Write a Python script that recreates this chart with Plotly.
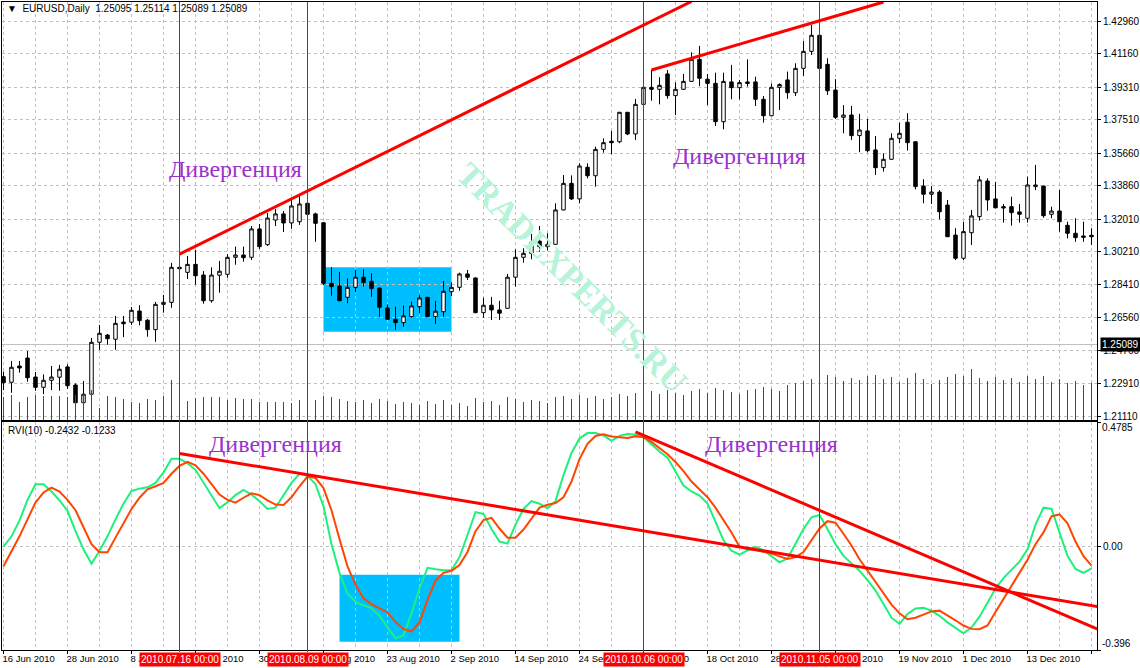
import plotly.graph_objects as go
import pandas as pd

# ---------------- data (EURUSD, Daily) ----------------
dates = pd.bdate_range("2010-06-16", "2010-12-23")  # 137 daily bars

open_ = [
    1.2331, 1.2300, 1.2390, 1.2434, 1.2329, 1.2272, 1.2311, 1.2328, 1.2385, 1.2285,
    1.2187, 1.2234, 1.2521, 1.2561, 1.2538, 1.2633, 1.2632, 1.2694, 1.2643, 1.2591,
    1.2731, 1.2742, 1.2936, 1.2908, 1.2952, 1.2893, 1.2751, 1.2892, 1.2897, 1.2991,
    1.3004, 1.2991, 1.3148, 1.3061, 1.3197, 1.3231, 1.3181, 1.3188, 1.3290, 1.3231,
    1.3182, 1.2847, 1.2832, 1.2770, 1.2825, 1.2881, 1.2858, 1.2821, 1.2711, 1.2648,
    1.2630, 1.2663, 1.2718, 1.2770, 1.2663, 1.2690, 1.2801, 1.2825, 1.2899, 1.2877,
    1.2685, 1.2726, 1.2700, 1.2709, 1.2881, 1.2991, 1.3013, 1.3081, 1.3050, 1.3063,
    1.3253, 1.3400, 1.3314, 1.3489, 1.3442, 1.3588, 1.3633, 1.3630, 1.3793, 1.3673,
    1.3837, 1.3931, 1.3920, 1.4005, 1.3885, 1.3920, 1.3964, 1.4086, 1.3976, 1.3953,
    1.3741, 1.3961, 1.3929, 1.3961, 1.3961, 1.3865, 1.3774, 1.3931, 1.3972, 1.3901,
    1.4036, 1.4130, 1.4219, 1.4058, 1.3916, 1.3765, 1.3778, 1.3664, 1.3690, 1.3585,
    1.3487, 1.3533, 1.3649, 1.3738, 1.3630, 1.3385, 1.3340, 1.3352, 1.3280, 1.3114,
    1.2986, 1.3127, 1.3216, 1.3413, 1.3314, 1.3271, 1.3271, 1.3242, 1.3207, 1.3382,
    1.3385, 1.3229, 1.3247, 1.3168, 1.3124, 1.3109, 1.3113,
]
high = [
    1.2359, 1.2418, 1.2418, 1.2473, 1.2357, 1.2344, 1.2390, 1.2396, 1.2399, 1.2294,
    1.2307, 1.2545, 1.2617, 1.2567, 1.2667, 1.2667, 1.2716, 1.2726, 1.2650, 1.2744,
    1.2783, 1.2960, 1.2954, 1.2998, 1.3032, 1.2915, 1.2936, 1.2971, 1.3009, 1.3050,
    1.3050, 1.3164, 1.3175, 1.3236, 1.3258, 1.3247, 1.3314, 1.3330, 1.3308, 1.3238,
    1.3186, 1.2936, 1.2910, 1.2875, 1.2921, 1.2925, 1.2903, 1.2823, 1.2731, 1.2718,
    1.2724, 1.2746, 1.2783, 1.2772, 1.2750, 1.2860, 1.2853, 1.2906, 1.2921, 1.2879,
    1.2768, 1.2772, 1.2750, 1.2899, 1.3035, 1.3041, 1.3120, 1.3164, 1.3124, 1.3290,
    1.3446, 1.3444, 1.3511, 1.3511, 1.3603, 1.3649, 1.3690, 1.3795, 1.3795, 1.3867,
    1.3933, 1.4027, 1.3987, 1.4027, 1.3959, 1.4005, 1.4125, 1.4160, 1.4005, 1.4012,
    1.4012, 1.4055, 1.3972, 1.4086, 1.3990, 1.3883, 1.3953, 1.3953, 1.4018, 1.4064,
    1.4187, 1.4276, 1.4250, 1.4092, 1.3976, 1.3833, 1.3828, 1.3784, 1.3756, 1.3662,
    1.3566, 1.3677, 1.3736, 1.3788, 1.3632, 1.3423, 1.3385, 1.3363, 1.3308, 1.3152,
    1.3188, 1.3253, 1.3441, 1.3428, 1.3408, 1.3286, 1.3326, 1.3286, 1.3437, 1.3502,
    1.3388, 1.3271, 1.3363, 1.3188, 1.3207, 1.3188, 1.3152,
]
low = [
    1.2257, 1.2242, 1.2353, 1.2303, 1.2253, 1.2234, 1.2257, 1.2253, 1.2263, 1.2185,
    1.2180, 1.2225, 1.2479, 1.2508, 1.2479, 1.2550, 1.2617, 1.2615, 1.2552, 1.2524,
    1.2685, 1.2712, 1.2921, 1.2871, 1.2840, 1.2735, 1.2740, 1.2795, 1.2878, 1.2950,
    1.2967, 1.2976, 1.3037, 1.3054, 1.3164, 1.3131, 1.3148, 1.3170, 1.3220, 1.3077,
    1.2838, 1.2779, 1.2748, 1.2737, 1.2799, 1.2829, 1.2773, 1.2663, 1.2646, 1.2589,
    1.2607, 1.2657, 1.2682, 1.2661, 1.2622, 1.2663, 1.2777, 1.2806, 1.2866, 1.2682,
    1.2657, 1.2644, 1.2644, 1.2707, 1.2829, 1.2961, 1.2980, 1.3022, 1.3028, 1.3061,
    1.3251, 1.3308, 1.3290, 1.3428, 1.3382, 1.3570, 1.3561, 1.3622, 1.3667, 1.3640,
    1.3835, 1.3857, 1.3837, 1.3868, 1.3778, 1.3916, 1.3961, 1.3938, 1.3833, 1.3717,
    1.3699, 1.3865, 1.3865, 1.3935, 1.3828, 1.3736, 1.3772, 1.3806, 1.3867, 1.3883,
    1.3994, 1.4110, 1.4030, 1.3889, 1.3756, 1.3677, 1.3640, 1.3572, 1.3572, 1.3446,
    1.3465, 1.3531, 1.3622, 1.3581, 1.3367, 1.3290, 1.3286, 1.3201, 1.3103, 1.2976,
    1.2976, 1.3059, 1.3194, 1.3249, 1.3262, 1.3183, 1.3166, 1.3183, 1.3183, 1.3363,
    1.3210, 1.3207, 1.3133, 1.3096, 1.3077, 1.3077, 1.3059,
]
close = [
    1.2298, 1.2383, 1.2379, 1.2325, 1.2272, 1.2311, 1.2329, 1.2372, 1.2281, 1.2187,
    1.2234, 1.2521, 1.2571, 1.2541, 1.2626, 1.2624, 1.2698, 1.2641, 1.2591, 1.2731,
    1.2742, 1.2936, 1.2928, 1.2952, 1.2889, 1.2751, 1.2893, 1.2914, 1.2991, 1.3004,
    1.2989, 1.3148, 1.3050, 1.3208, 1.3231, 1.3181, 1.3275, 1.3286, 1.3229, 1.3179,
    1.2847, 1.2829, 1.2751, 1.2825, 1.2881, 1.2851, 1.2818, 1.2715, 1.2648, 1.2630,
    1.2667, 1.2722, 1.2766, 1.2663, 1.2693, 1.2803, 1.2825, 1.2899, 1.2881, 1.2685,
    1.2726, 1.2700, 1.2682, 1.2881, 1.2991, 1.3013, 1.3074, 1.3050, 1.3063, 1.3253,
    1.3400, 1.3314, 1.3496, 1.3442, 1.3588, 1.3625, 1.3625, 1.3793, 1.3673, 1.3837,
    1.3931, 1.3920, 1.3942, 1.3885, 1.3920, 1.3964, 1.4086, 1.3981, 1.3953, 1.3741,
    1.3964, 1.3929, 1.3957, 1.3953, 1.3865, 1.3774, 1.3931, 1.3946, 1.3901, 1.4036,
    1.4130, 1.4219, 1.4036, 1.3912, 1.3765, 1.3778, 1.3664, 1.3695, 1.3581, 1.3487,
    1.3533, 1.3649, 1.3677, 1.3625, 1.3382, 1.3340, 1.3352, 1.3243, 1.3105, 1.2986,
    1.3133, 1.3220, 1.3419, 1.3308, 1.3265, 1.3264, 1.3238, 1.3229, 1.3391, 1.3391,
    1.3221, 1.3247, 1.3188, 1.3124, 1.3100, 1.3102, 1.3105,
]
volume = [
    23000, 25000, 18000, 23000, 25000, 24000, 24000, 24000, 23000, 25000,
    26000, 30000, 12000, 24000, 23000, 21000, 18000, 17000, 21000, 20000,
    24000, 40000, 27000, 19000, 22000, 23000, 23000, 23000, 20000, 22000,
    21000, 21000, 18000, 18000, 18000, 18000, 17000, 20000, 24000, 20000,
    24000, 23000, 21000, 19000, 18000, 20000, 17000, 21000, 19000, 16000,
    18000, 17000, 15000, 19000, 16000, 20000, 15000, 17000, 14000, 22000,
    18000, 19000, 15000, 23000, 21000, 18000, 20000, 19000, 17000, 23000,
    24000, 21000, 25000, 22000, 24000, 21000, 23000, 26000, 24000, 27000,
    25000, 29000, 26000, 30000, 27000, 25000, 29000, 31000, 27000, 32000,
    30000, 28000, 26000, 30000, 31000, 33000, 31000, 29000, 35000, 37000,
    39000, 41000, 44000, 45000, 43000, 39000, 42000, 40000, 44000, 45000,
    41000, 43000, 38000, 42000, 47000, 41000, 36000, 40000, 43000, 46000,
    44000, 51000, 42000, 39000, 43000, 40000, 42000, 38000, 44000, 41000,
    44000, 38000, 41000, 37000, 39000, 35000, 37000,
]
rvi_main = [
    0.000, 0.040, 0.100, 0.180, 0.240, 0.240, 0.212, 0.178, 0.138, 0.060,
    -0.010, -0.065, -0.015, 0.040, 0.105, 0.165, 0.214, 0.223, 0.228, 0.245,
    0.285, 0.338, 0.338, 0.320, 0.295, 0.245, 0.195, 0.148, 0.170, 0.198,
    0.218, 0.200, 0.175, 0.145, 0.150, 0.195, 0.245, 0.280, 0.272, 0.240,
    0.155, 0.010, -0.100, -0.180, -0.212, -0.225, -0.235, -0.265, -0.310, -0.351,
    -0.340, -0.255, -0.160, -0.081, -0.086, -0.090, -0.090, -0.040, 0.045, 0.133,
    0.126, 0.068, 0.020, 0.012, 0.085, 0.145, 0.175, 0.165, 0.148, 0.175,
    0.275, 0.360, 0.415, 0.436, 0.436, 0.427, 0.406, 0.425, 0.432, 0.430,
    0.420, 0.392, 0.365, 0.342, 0.290, 0.235, 0.212, 0.196, 0.166, 0.095,
    0.025, -0.015, -0.030, -0.014, 0.000, -0.013, -0.035, -0.060, -0.045, 0.010,
    0.068, 0.113, 0.122, 0.068, 0.010, -0.035, -0.065, -0.092, -0.128, -0.168,
    -0.220, -0.272, -0.296, -0.258, -0.237, -0.234, -0.245, -0.265, -0.290, -0.312,
    -0.332, -0.310, -0.268, -0.215, -0.160, -0.120, -0.088, -0.057, -0.010, 0.085,
    0.150, 0.145, 0.055, -0.035, -0.085, -0.100, -0.083,
]
rvi_signal = [
    -0.075, -0.020, 0.040, 0.105, 0.170, 0.208, 0.227, 0.212, 0.180, 0.140,
    0.075, 0.010, -0.021, -0.021, 0.035, 0.090, 0.145, 0.188, 0.220, 0.232,
    0.245, 0.280, 0.310, 0.326, 0.312, 0.280, 0.242, 0.200, 0.180, 0.169,
    0.188, 0.205, 0.198, 0.178, 0.162, 0.160, 0.190, 0.232, 0.269, 0.264,
    0.225, 0.140, 0.030, -0.075, -0.145, -0.198, -0.220, -0.235, -0.252, -0.288,
    -0.315, -0.325, -0.290, -0.205, -0.130, -0.100, -0.092, -0.070, -0.020, 0.060,
    0.102, 0.111, 0.070, 0.035, 0.035, 0.066, 0.110, 0.150, 0.161, 0.168,
    0.190, 0.250, 0.336, 0.395, 0.425, 0.431, 0.423, 0.420, 0.417, 0.424,
    0.420, 0.402, 0.380, 0.355, 0.325, 0.290, 0.250, 0.218, 0.190, 0.150,
    0.105, 0.055, 0.000, -0.009, -0.013, -0.020, -0.026, -0.037, -0.047, -0.040,
    -0.020, 0.025, 0.070, 0.098, 0.092, 0.050, 0.005, -0.048, -0.092, -0.135,
    -0.178, -0.222, -0.255, -0.278, -0.272, -0.260, -0.248, -0.245, -0.262, -0.282,
    -0.302, -0.315, -0.316, -0.302, -0.250, -0.200, -0.146, -0.095, -0.050, 0.010,
    0.055, 0.117, 0.124, 0.090, 0.020, -0.036, -0.072,
]

price_ticks = [1.21110, 1.22910, 1.24760, 1.26560, 1.28410, 1.30210, 1.32010,
               1.33860, 1.35660, 1.37510, 1.39310, 1.41160, 1.42960]
rvi_max, rvi_min = 0.4785, -0.396
bid = 1.25089
header_text = "EURUSD,Daily\u00a0\u00a01.25095 1.25114 1.25089 1.25089"
rvi_header = "RVI(10) -0.2432 -0.1233"

# user-drawn objects (bar index, value)
marked_bars = [22, 38, 80, 102]
price_trend_1 = ([22, 86], [1.3009, 1.4406])
price_trend_2 = ([81, 110], [1.4027, 1.4403])
rvi_trend_1 = ([22, 137], [0.358, -0.2305])
rvi_trend_2 = ([79, 137], [0.441, -0.319])
price_box = ([40, 56], [1.2580, 1.2936])
rvi_box = ([42, 57], [-0.364, -0.107])
label_text = "Дивергенция"
price_labels = [(29, 1.3479), (92, 1.3551)]
rvi_labels = [(34, 0.394), (96, 0.394)]
watermark = ("TRADEXPERTS.RU", 71, 1.2877)

# ---------------- figure ----------------
n = len(close)
idx = list(range(n))
x_range = [-0.1875, n - 1 + 0.6875]
label_idx = list(range(0, n, 8))
label_txt = [f"{dates[i].day} {dates[i].strftime('%b %Y')}" for i in label_idx]

GRID = "#C0C0C0"
DASH = "3px,3px"
FONT = "Liberation Sans"

fig = go.Figure()

fig.add_trace(go.Bar(x=idx, y=volume, xaxis="x", yaxis="y3", width=0.125,
                     marker=dict(color="#008000", line=dict(width=0)),
                     hoverinfo="skip"))
fig.add_trace(go.Candlestick(
    x=idx, open=open_, high=high, low=low, close=close, xaxis="x", yaxis="y",
    increasing=dict(line=dict(color="black", width=1), fillcolor="white"),
    decreasing=dict(line=dict(color="black", width=1), fillcolor="black"),
    whiskerwidth=0, hoverinfo="skip"))

for tx, ty in (price_trend_1, price_trend_2):
    fig.add_trace(go.Scatter(x=tx, y=ty, mode="lines", xaxis="x", yaxis="y",
                             line=dict(color="#FF0000", width=3), hoverinfo="skip"))

fig.add_trace(go.Scatter(x=idx, y=rvi_main, mode="lines", xaxis="x2", yaxis="y2",
                         line=dict(color="#1EF07C", width=2), hoverinfo="skip"))
fig.add_trace(go.Scatter(x=idx, y=rvi_signal, mode="lines", xaxis="x2", yaxis="y2",
                         line=dict(color="#FF4500", width=2), hoverinfo="skip"))
for tx, ty in (rvi_trend_1, rvi_trend_2):
    fig.add_trace(go.Scatter(x=tx, y=ty, mode="lines", xaxis="x2", yaxis="y2",
                             line=dict(color="#FF0000", width=3), hoverinfo="skip"))

shapes = []
shapes.append(dict(type="rect", xref="x", yref="y", x0=price_box[0][0], x1=price_box[0][1],
                   y0=price_box[1][0], y1=price_box[1][1], fillcolor="#00BFFF",
                   line=dict(width=0), layer="below"))
shapes.append(dict(type="rect", xref="x2", yref="y2", x0=rvi_box[0][0], x1=rvi_box[0][1],
                   y0=rvi_box[1][0], y1=rvi_box[1][1], fillcolor="#00BFFF",
                   line=dict(width=0), layer="below"))
shapes.append(dict(type="line", xref="paper", yref="y", x0=0, x1=1, y0=bid, y1=bid,
                   line=dict(color=GRID, width=1), layer="between"))
for b in marked_bars:
    shapes.append(dict(type="line", xref="x2", yref="paper", x0=b, x1=b, y0=-0.003, y1=1,
                       line=dict(color="#FF0000", width=1), layer="above"))

ann = []
ann.append(dict(xref="paper", yref="paper", x=0.0027, y=0.9892, xanchor="left",
                yanchor="middle", showarrow=False,
                text="\u25bc\u00a0\u00a0" + header_text,
                font=dict(family=FONT, size=10, color="black")))
ann.append(dict(xref="paper", yref="paper", x=0.0037, y=0.3395, xanchor="left",
                yanchor="middle", showarrow=False, text=rvi_header,
                font=dict(family=FONT, size=10, color="black")))
ann.append(dict(xref="paper", yref="y", x=1, y=bid, xanchor="left", yanchor="middle",
                xshift=3, showarrow=False, text=f"{bid:.5f}", bgcolor="black",
                borderpad=1, font=dict(family=FONT, size=10, color="white")))
ann.append(dict(xref="paper", yref="paper", x=1, y=0.3434, xanchor="left",
                yanchor="middle", xshift=3, showarrow=False, text=f"{rvi_max:.4f}",
                font=dict(family=FONT, size=10, color="black")))
ann.append(dict(xref="paper", yref="paper", x=1, y=0.0108, xanchor="left",
                yanchor="middle", xshift=3, showarrow=False, text=f"{rvi_min:.3f}",
                font=dict(family=FONT, size=10, color="black")))
for (lx, ly) in price_labels:
    ann.append(dict(xref="x", yref="y", x=lx, y=ly, showarrow=False, text=label_text,
                    font=dict(family="Liberation Serif", size=24, color="#9932CC")))
for (lx, ly) in rvi_labels:
    ann.append(dict(xref="x2", yref="y2", x=lx, y=ly, showarrow=False, text=label_text,
                    font=dict(family="Liberation Serif", size=24, color="#9932CC")))
ann.append(dict(xref="x", yref="y", x=watermark[1], y=watermark[2], showarrow=False,
                text="<b>" + watermark[0] + "</b>", textangle=45,
                font=dict(family="Liberation Serif", size=34, color="#B6F4DA")))
for b in marked_bars:
    ann.append(dict(xref="x2", yref="paper", x=b, y=-0.0147, xanchor="center",
                    yanchor="middle", showarrow=False,
                    text=dates[b].strftime("%Y.%m.%d 00:00"), bgcolor="#FF0000",
                    borderpad=1, font=dict(family=FONT, size=10, color="white")))

axis_common = dict(showline=True, linecolor="black", linewidth=1, mirror=True,
                   zeroline=False, automargin=False)
xgrid = dict(showgrid=True, gridcolor=GRID, griddash=DASH, gridwidth=1,
             minor=dict(tick0=0, dtick=4, showgrid=True, gridcolor=GRID,
                        griddash=DASH, gridwidth=1, ticks=""))

fig.update_layout(
    width=1140, height=668,
    margin=dict(l=2, r=43, t=2, b=18),
    template="none",
    paper_bgcolor="white", plot_bgcolor="white",
    font=dict(family=FONT, size=10, color="black"),
    showlegend=False, hovermode=False, boxgap=0.38,
    xaxis=dict(domain=[0, 1], anchor="y", range=x_range, matches="x2",
               tickmode="array", tickvals=label_idx, showticklabels=False, ticks="",
               rangeslider=dict(visible=False), **xgrid, **axis_common),
    xaxis2=dict(domain=[0, 1], anchor="y2", range=x_range,
                tickmode="array", tickvals=label_idx, ticktext=label_txt,
                ticks="outside", ticklen=3, tickcolor="black", tickangle=0,
                ticklabelposition="outside right", ticklabelshift=-2,
                tickfont=dict(family=FONT, size=9.5, color="black"),
                **xgrid, **axis_common),
    yaxis=dict(domain=[0.35494, 1], anchor="x", side="right",
               range=[1.20914, 1.44029], tickmode="array", tickvals=price_ticks,
               tickformat=".5f", ticks="outside", ticklen=3, tickcolor="black",
               showgrid=True, gridcolor=GRID, griddash=DASH,
               tickfont=dict(family=FONT, size=10, color="black"), **axis_common),
    yaxis2=dict(domain=[0, 0.35185], anchor="x2", side="right",
                range=[rvi_min, rvi_max], tickmode="array",
                tickvals=[rvi_min, 0, rvi_max], ticktext=["", "0.00", ""],
                ticks="outside", ticklen=3, tickcolor="black",
                showgrid=True, gridcolor=GRID, griddash=DASH,
                tickfont=dict(family=FONT, size=10, color="black"), **axis_common),
    yaxis3=dict(overlaying="y", anchor="x", range=[0, 418000], visible=False,
                showgrid=False, zeroline=False),
    shapes=shapes, annotations=ann,
)

fig.write_html("out.html", config={"displayModeBar": False},
               post_script="document.body.style.margin='0px';")
